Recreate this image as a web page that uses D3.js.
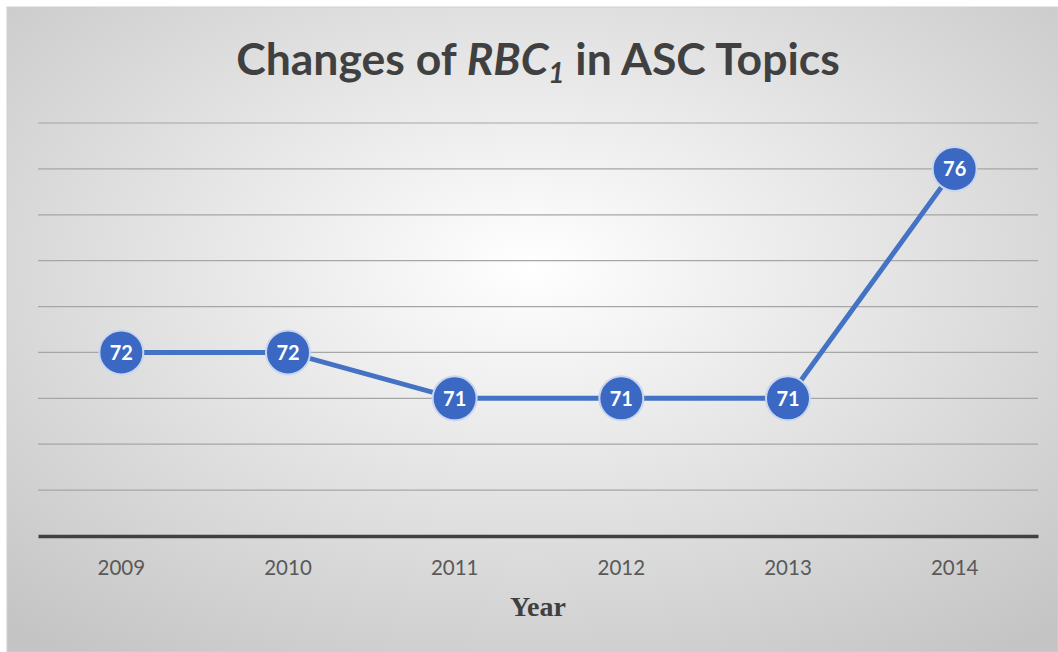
<!DOCTYPE html>
<html>
<head>
<meta charset="utf-8">
<script src="https://cdn.jsdelivr.net/npm/d3@7"></script>
<style>
  body { margin: 0; background: #fff; }
  svg { display: block; }
</style>
</head>
<body>
<div id="chart"></div>
<script>
// chart data
const years = ["2009", "2010", "2011", "2012", "2013", "2014"];
const rbcValues = [72, 72, 71, 71, 71, 76];
const yDomain = [68, 77];
const yTicks = [69, 70, 71, 72, 73, 74, 75, 76, 77];

const W = 1058, H = 652;
const margin = { top: 123, right: 20, bottom: 116, left: 38 };
const plotW = 1000, plotH = H - margin.top - margin.bottom;

const svg = d3.select("#chart").append("svg")
  .attr("width", W)
  .attr("height", H);

// background gradient like the office chart area
const defs = svg.append("defs");
const grad = defs.append("radialGradient")
  .attr("id", "bg")
  .attr("cx", "50%").attr("cy", "40%").attr("r", "75%");
grad.append("stop").attr("offset", "0%").attr("stop-color", "#ffffff");
grad.append("stop").attr("offset", "100%").attr("stop-color", "#c4c4c4");

svg.append("rect")
  .attr("x", 7).attr("y", 7)
  .attr("width", W - 7).attr("height", H - 7)
  .attr("fill", "url(#bg)")
  .attr("stroke", "#d0d0d0");

const g = svg.append("g")
  .attr("transform", "translate(" + margin.left + "," + margin.top + ")");

const x = d3.scaleBand()
  .domain(years)
  .range([0, plotW]);

const y = d3.scaleLinear()
  .domain(yDomain)
  .range([plotH, 0]);

// gridlines
g.append("g").selectAll("line")
  .data(yTicks)
  .join("line")
  .attr("x1", 0)
  .attr("x2", plotW)
  .attr("y1", d => y(d))
  .attr("y2", d => y(d))
  .attr("stroke", "#a6a6a6")
  .attr("stroke-width", 1.2);

// x axis
const xAxis = d3.axisBottom(x).tickSize(0).tickPadding(24);
const xg = g.append("g")
  .attr("transform", "translate(0," + plotH + ")")
  .call(xAxis);
xg.select(".domain")
  .attr("stroke", "#404040")
  .attr("stroke-width", 3.5);
xg.selectAll("text")
  .attr("font-family", "Lato, 'Open Sans', sans-serif")
  .attr("font-size", 20.5)
  .attr("fill", "#595959");

// the series
const line = d3.line()
  .x((d, i) => x(years[i]) + x.bandwidth() / 2)
  .y(d => y(d));

g.append("path")
  .datum(rbcValues)
  .attr("fill", "none")
  .attr("stroke", "#4472c4")
  .attr("stroke-width", 5)
  .attr("d", line);

const pts = g.append("g").selectAll("g")
  .data(rbcValues)
  .join("g")
  .attr("transform", (d, i) => "translate(" + (x(years[i]) + x.bandwidth() / 2) + "," + y(d) + ")");

pts.append("circle")
  .attr("r", 22)
  .attr("fill", "#3a68c2")
  .attr("stroke", "#c9d6ee")
  .attr("stroke-width", 2);

pts.append("text")
  .attr("text-anchor", "middle")
  .attr("dy", "0.36em")
  .attr("font-family", "Lato, 'Open Sans', sans-serif")
  .attr("font-weight", "bold")
  .attr("font-size", 20)
  .attr("fill", "#ffffff")
  .text(d => d);

// title
const title = svg.append("text")
  .attr("x", 538)
  .attr("y", 75)
  .attr("text-anchor", "middle")
  .attr("font-family", "Lato, 'Open Sans', sans-serif")
  .attr("font-weight", "bold")
  .attr("font-size", 44.5)
  .attr("fill", "#404040");
title.append("tspan").text("Changes of ");
title.append("tspan").attr("font-style", "italic").text("RBC");
title.append("tspan").attr("font-style", "italic").attr("font-size", 28).attr("dy", 8).text("1");
title.append("tspan").attr("dy", -8).text(" in ASC Topics");

// axis title
svg.append("text")
  .attr("x", 538)
  .attr("y", 616)
  .attr("text-anchor", "middle")
  .attr("font-family", "'Liberation Serif', 'DejaVu Serif', serif")
  .attr("font-weight", "bold")
  .attr("font-size", 28)
  .attr("fill", "#404040")
  .text("Year");
</script>
</body>
</html>
